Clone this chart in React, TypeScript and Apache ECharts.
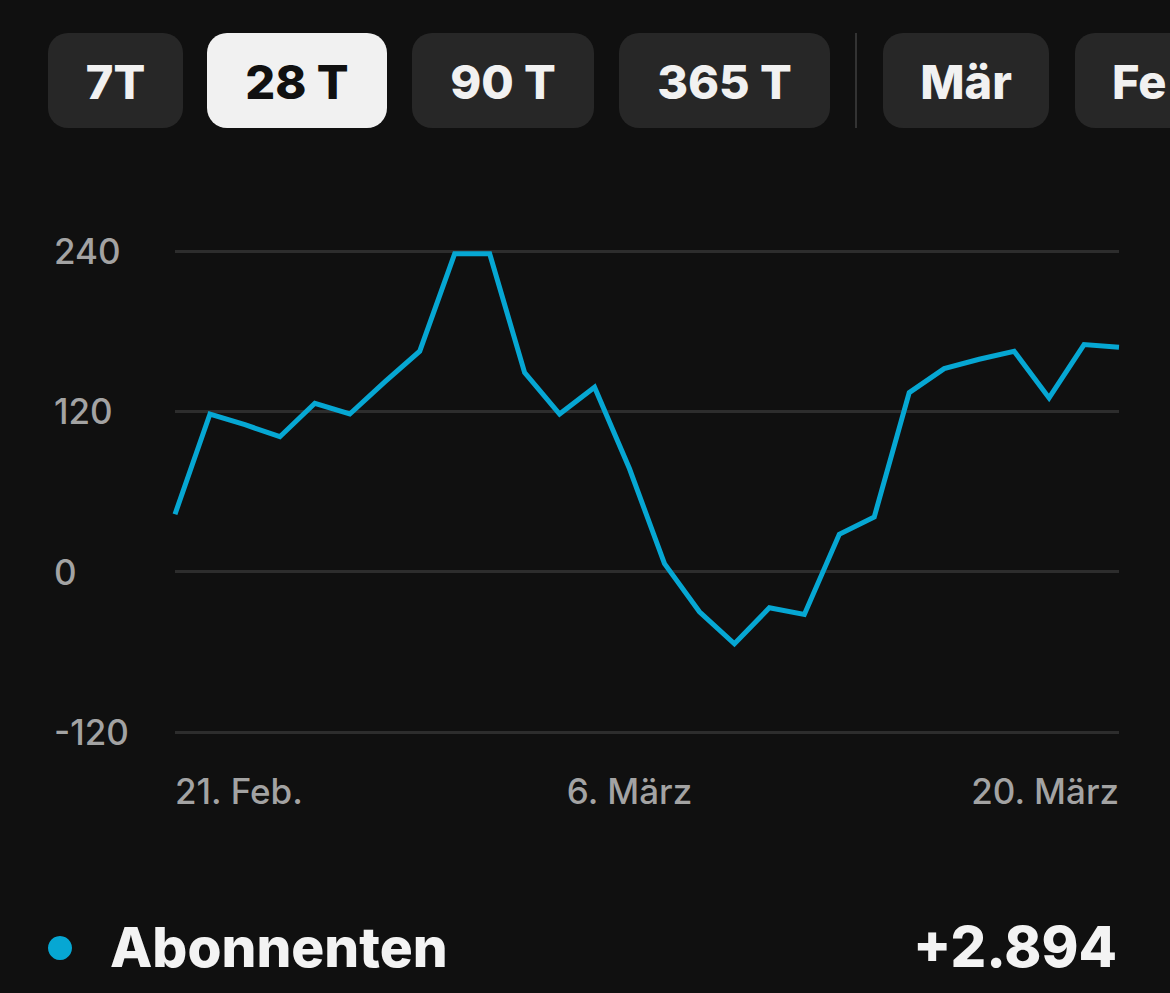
import React, { useEffect, useRef } from "react";
import * as echarts from "echarts";

const categories: string[] = [
  "21. Feb.", "22. Feb.", "23. Feb.", "24. Feb.", "25. Feb.", "26. Feb.", "27. Feb.", "28. Feb.",
  "1. März", "2. März", "3. März", "4. März", "5. März", "6. März", "7. März", "8. März",
  "9. März", "10. März", "11. März", "12. März", "13. März", "14. März", "15. März", "16. März",
  "17. März", "18. März", "19. März", "20. März",
];

const subscribers: number[] = [
  43, 118, 110, 101, 126, 118, 142, 165, 238, 238, 149, 118, 138, 77,
  6, -30, -54, -27, -32, 28, 41, 134, 152, 159, 165, 130, 170, 168,
];

const yTicks: number[] = [-120, 0, 120, 240];
const shownLabelIndexes: number[] = [0, 13, 27];

const rangeButtons: string[] = ["7T", "28 T", "90 T", "365 T"];
const monthButtons: string[] = ["Mär", "Fe"];
const activeButton = "28 T";
const seriesName = "Abonnenten";
const totalText = "+2.894";

const BG = "#101010";
const LINE = "#06a7d3";
const FONT = "Inter, 'Noto Sans', sans-serif";

export default function App() {
  const ref = useRef<HTMLDivElement>(null);

  useEffect(() => {
    document.body.style.margin = "0";
    document.body.style.background = BG;
    if (!ref.current) return;
    const chart = echarts.init(ref.current, undefined, { renderer: "svg" });

    const btnBoxes = [
      [48, 135],
      [207, 180],
      [412, 182],
      [619, 211],
    ];
    const monthBoxes = [
      [883, 166],
      [1075, 160],
    ];
    const graphics: any[] = [];
    rangeButtons.forEach((label, i) => {
      const [x, w] = btnBoxes[i];
      const active = label === activeButton;
      graphics.push({
        type: "rect",
        shape: { x, y: 33, width: w, height: 95, r: 20 },
        style: { fill: active ? "#f1f1f1" : "#272727" },
      });
      graphics.push({
        type: "text",
        x: x + w / 2,
        y: 81,
        style: {
          text: label,
          fill: active ? "#111111" : "#f1f1f1",
          font: `800 47px ${FONT}`,
          align: "center",
          verticalAlign: "middle",
        },
      });
    });
    graphics.push({
      type: "line",
      shape: { x1: 856, y1: 33, x2: 856, y2: 128 },
      style: { stroke: "#333333", lineWidth: 2 },
    });
    monthButtons.forEach((label, i) => {
      const [x, w] = monthBoxes[i];
      graphics.push({
        type: "rect",
        shape: { x, y: 33, width: w, height: 95, r: 20 },
        style: { fill: "#272727" },
      });
      graphics.push({
        type: "text",
        x: i === 1 ? x + 37 : x + w / 2,
        y: 81,
        style: {
          text: label,
          fill: "#f1f1f1",
          font: `800 47px ${FONT}`,
          align: i === 1 ? "left" : "center",
          verticalAlign: "middle",
        },
      });
    });
    graphics.push({
      type: "circle",
      shape: { cx: 60, cy: 948, r: 12 },
      style: { fill: LINE },
    });
    graphics.push({
      type: "text",
      x: 110,
      y: 947,
      style: {
        text: seriesName,
        fill: "#f3f3f3",
        font: `800 55px ${FONT}`,
        align: "left",
        verticalAlign: "middle",
      },
    });
    graphics.push({
      type: "text",
      x: 1117,
      y: 947,
      style: {
        text: totalText,
        fill: "#f3f3f3",
        font: `800 56px ${FONT}`,
        align: "right",
        verticalAlign: "middle",
      },
    });

    chart.setOption({
      animation: false,
      backgroundColor: BG,
      grid: { left: 175, right: 51, top: 251, bottom: 261, containLabel: false },
      xAxis: {
        type: "category",
        data: categories,
        boundaryGap: false,
        axisLine: { show: false },
        axisTick: { show: false },
        splitLine: { show: false },
        axisLabel: {
          interval: (idx: number) => shownLabelIndexes.includes(idx),
          color: "#a3a3a3",
          fontSize: 35,
          fontFamily: FONT,
          fontWeight: 500,
          margin: 41,
          alignMinLabel: "left",
          alignMaxLabel: "right",
        },
      },
      yAxis: {
        type: "value",
        min: yTicks[0],
        max: yTicks[yTicks.length - 1],
        interval: 120,
        axisLine: { show: false },
        axisTick: { show: false },
        splitLine: { show: true, lineStyle: { color: "#2d2d2d", width: 3 } },
        axisLabel: {
          color: "#a3a3a3",
          fontSize: 35,
          fontFamily: FONT,
          fontWeight: 500,
          align: "left",
          margin: 121,
        },
      },
      series: [
        {
          name: seriesName,
          type: "line",
          data: subscribers,
          showSymbol: false,
          symbol: "none",
          lineStyle: { color: LINE, width: 5, join: "miter" },
          itemStyle: { color: LINE },
        },
      ],
      graphic: graphics,
    });

    return () => chart.dispose();
  }, []);

  return (
    <div
      ref={ref}
      style={{ position: "fixed", left: 0, top: 0, width: 1170, height: 993, background: BG }}
    />
  );
}
